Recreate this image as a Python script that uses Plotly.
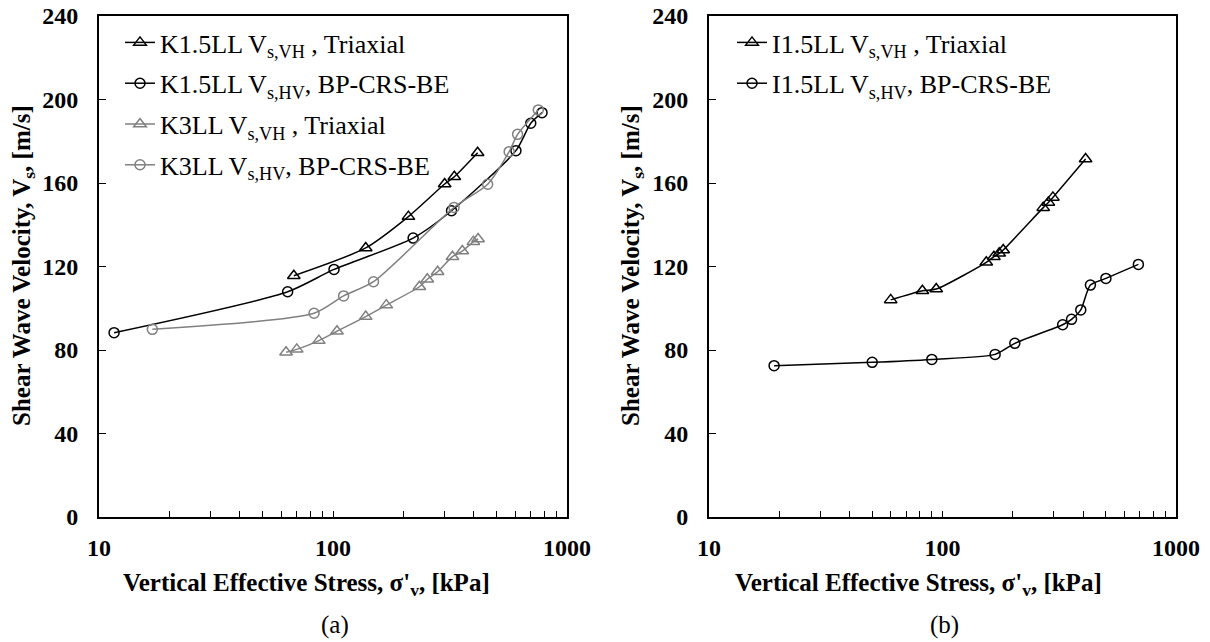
import plotly.graph_objects as go

# ---------------- data ----------------
k15_vh_x = [68, 138, 210, 300, 330, 415]
k15_vh_y = [115.6, 128.9, 143.9, 159.5, 163.0, 174.5]
k15_hv_x = [11.6, 64, 101, 220, 321, 605, 700, 782]
k15_hv_y = [88.3, 107.9, 118.6, 133.6, 146.7, 175.5, 188.6, 193.7]
k3_vh_x = [63, 70, 87, 104, 138, 169, 234, 253, 280, 324, 357, 398, 417]
k3_vh_y = [78.9, 80.3, 84.5, 89.0, 96.0, 101.5, 110.3, 113.9, 117.5, 124.7, 127.4, 131.9, 133.2]
k3_hv_x = [16.9, 83, 111, 149, 329, 458, 566, 615, 754]
k3_hv_y = [89.9, 97.6, 105.9, 112.7, 148.3, 159.4, 175.0, 183.3, 195.0]

i15_vh_x = [60, 82, 94, 154, 166, 175, 182, 270, 284, 297, 410]
i15_vh_y = [104.0, 108.4, 109.2, 122.0, 124.7, 126.3, 127.9, 148.2, 150.7, 153.1, 171.5]
i15_hv_x = [19, 50, 90, 168, 204, 327, 357, 391, 430, 501, 690]
i15_hv_y = [72.5, 74.1, 75.5, 77.9, 83.2, 92.1, 94.7, 99.2, 111.1, 114.3, 121.0]

x_major = [10, 100, 1000]
x_major_text = ["<b>10</b>", "<b>100</b>", "<b>1000</b>"]
x_minor = [20, 30, 40, 50, 60, 70, 80, 90, 200, 300, 400, 500, 600, 700, 800, 900]
y_tickvals = [0, 40, 80, 120, 160, 200, 240]
y_ticktext = ["<b>0</b>", "<b>40</b>", "<b>80</b>", "<b>120</b>", "<b>160</b>", "<b>200</b>", "<b>240</b>"]

names_a = ["K1.5LL V<sub>s,VH</sub> , Triaxial", "K1.5LL V<sub>s,HV</sub>, BP-CRS-BE",
           "K3LL V<sub>s,VH</sub> , Triaxial", "K3LL V<sub>s,HV</sub>, BP-CRS-BE"]
names_b = ["I1.5LL V<sub>s,VH</sub> , Triaxial", "I1.5LL V<sub>s,HV</sub>, BP-CRS-BE"]

FONT = "Liberation Serif, Times New Roman, serif"
BLACK = "#000000"
GRAY = "#808080"

fig = go.Figure()


def add(x, y, name, color, symbol, xa, ya, legend, group):
    fig.add_trace(go.Scatter(
        x=x, y=y, name=name, mode="lines+markers", xaxis=xa, yaxis=ya,
        legend=legend, legendgroup=group,
        line=dict(color=color, width=1.5, shape="spline", smoothing=0.7),
        marker=dict(symbol=symbol, size=11 if "triangle" in symbol else 10,
                    color=color, line=dict(color=color, width=1.5)),
    ))


add(k15_vh_x, k15_vh_y, names_a[0], BLACK, "triangle-up-open", "x", "y", "legend", "a1")
add(k15_hv_x, k15_hv_y, names_a[1], BLACK, "circle-open", "x", "y", "legend", "a2")
add(k3_vh_x, k3_vh_y, names_a[2], GRAY, "triangle-up-open", "x", "y", "legend", "a3")
add(k3_hv_x, k3_hv_y, names_a[3], GRAY, "circle-open", "x", "y", "legend", "a4")
add(i15_vh_x, i15_vh_y, names_b[0], BLACK, "triangle-up-open", "x2", "y2", "legend2", "b1")
add(i15_hv_x, i15_hv_y, names_b[1], BLACK, "circle-open", "x2", "y2", "legend2", "b2")

W, H = 1210, 642
OFF = 0  # body margin is removed by the post script below


def fx(px):
    return (px - OFF) / W


def fy(py):
    return 1 - (py - OFF) / H


dom_y = [fy(517), fy(16)]
dom_x1 = [fx(99), fx(567)]
dom_x2 = [fx(709), fx(1176)]

xcommon = dict(type="log", range=[1, 3], tickmode="array", tickvals=x_major, ticktext=x_major_text,
               ticks="inside", ticklen=6, tickwidth=1.2, tickcolor="black",
               minor=dict(tickmode="array", tickvals=x_minor, ticks="inside", ticklen=6,
                          tickwidth=1.2, tickcolor="black", showgrid=False),
               showline=True, linecolor="black", linewidth=2, mirror=True,
               showgrid=False, zeroline=False, ticklabelstandoff=8, automargin=False,
               ticklabeloverflow="allow",
               tickfont=dict(family=FONT, size=24, color="black"))
ycommon = dict(range=[0, 240], tickmode="array", tickvals=y_tickvals, ticktext=y_ticktext,
               ticks="inside", ticklen=7, tickwidth=1.2, tickcolor="black",
               showline=True, linecolor="black", linewidth=2, mirror=True,
               showgrid=False, zeroline=False, ticklabelstandoff=14, automargin=False,
               ticklabeloverflow="allow",
               tickfont=dict(family=FONT, size=24, color="black"))

legcommon = dict(bgcolor="rgba(0,0,0,0)", borderwidth=0, xanchor="left", yanchor="top",
                 font=dict(family=FONT, size=26, color="black"), tracegroupgap=4,
                 itemwidth=30)

fig.update_layout(
    template="none",
    width=W, height=H, margin=dict(l=0, r=0, t=0, b=0, autoexpand=False),
    paper_bgcolor="white", plot_bgcolor="white",
    xaxis=dict(domain=dom_x1, anchor="y", **xcommon),
    yaxis=dict(domain=dom_y, anchor="x", **ycommon),
    xaxis2=dict(domain=dom_x2, anchor="y2", **xcommon),
    yaxis2=dict(domain=dom_y, anchor="x2", **ycommon),
    legend=dict(x=fx(120), y=fy(19), **legcommon),
    legend2=dict(x=fx(732), y=fy(19), **legcommon),
    showlegend=True,
)

tfont = dict(family=FONT, size=25, color="black")
xt = "<b>Vertical Effective Stress, σ'<sub>v</sub>, [kPa]</b>"
yt_ = "<b>Shear Wave Velocity, V<sub>s</sub>, [m/s]</b>"
for tx, cx, cap, ytx in [(306, 335, "(a)", 24), (918, 945, "(b)", 633)]:
    fig.add_annotation(x=fx(tx), y=fy(584), xref="paper", yref="paper", text=xt,
                       showarrow=False, font=tfont, xanchor="center", yanchor="middle")
    fig.add_annotation(x=fx(cx), y=fy(625), xref="paper", yref="paper", text=cap,
                       showarrow=False, font=dict(family=FONT, size=25, color="black"),
                       xanchor="center", yanchor="middle")
    fig.add_annotation(x=fx(ytx), y=fy(266), xref="paper", yref="paper", text=yt_,
                       showarrow=False, font=tfont, textangle=-90,
                       xanchor="center", yanchor="middle")

fig.write_html("out.html", config={"displayModeBar": False},
               post_script="document.body.style.margin='0px';")
